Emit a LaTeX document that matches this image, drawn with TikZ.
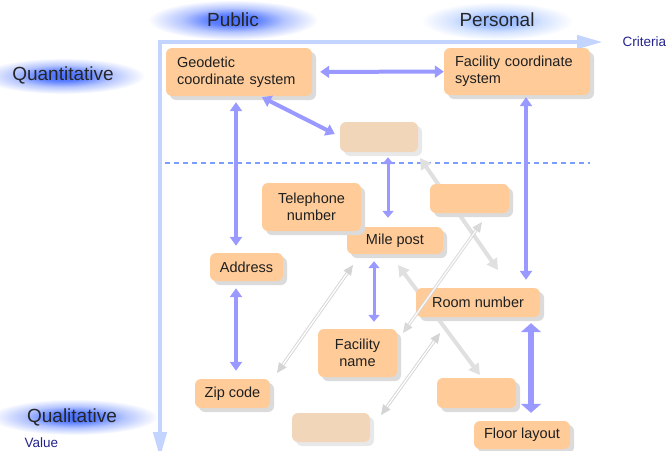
\documentclass[tikz,border=0pt]{standalone}
\usepackage{fontspec}
\setmainfont{Liberation Sans}
\usetikzlibrary{arrows.meta,shadows}

\definecolor{boxfill}{RGB}{255,204,153}
\definecolor{boxfade}{RGB}{242,214,186}
\definecolor{linkblue}{RGB}{153,153,255}
\definecolor{axisblue}{RGB}{195,212,255}
\definecolor{dashblue}{RGB}{125,158,255}
\definecolor{greylink}{RGB}{224,224,224}
\definecolor{greyedge}{RGB}{212,212,212}
\definecolor{axislabel}{RGB}{35,35,140}
\definecolor{glowcore}{RGB}{70,110,255}
\definecolor{glowpale}{RGB}{150,185,255}

% soft halos behind the axis titles
\pgfdeclareradialshading{glowstrong}{\pgfpoint{0bp}{0bp}}{color(0bp)=(glowcore); color(7bp)=(glowcore!88!white); color(15bp)=(glowcore!40!white); color(25bp)=(white); color(50bp)=(white)}
\pgfdeclareradialshading{glowsoft}{\pgfpoint{0bp}{0bp}}{color(0bp)=(glowpale); color(7bp)=(glowpale!88!white); color(15bp)=(glowpale!40!white); color(25bp)=(white); color(50bp)=(white)}

\tikzset{
  boxtext/.style={font=\fontsize{14.5}{17}\selectfont, text=black!88},
  card/.style={fill=boxfill, rounded corners=6pt, inner sep=0pt, align=center, boxtext,
    general shadow={shadow xshift=4pt, shadow yshift=-4pt, fill=black!14}},
  fadecard/.style={fill=boxfade, rounded corners=6pt, inner sep=0pt,
    general shadow={shadow xshift=4pt, shadow yshift=-4pt, fill=black!9}},
  leftcard/.style={card, align=left, inner xsep=11pt, text width=124pt},
  biglabel/.style={font=\fontsize{19}{22}\selectfont, text=black!85},
  axistitle/.style={font=\fontsize{13.5}{16}\selectfont, text=axislabel},
  link/.style={draw=linkblue, line width=4pt,
    arrows={Triangle[length=9pt,width=12pt]-Triangle[length=9pt,width=12pt]}},
  thinlink/.style={draw=linkblue, line width=3pt,
    arrows={Triangle[length=7pt,width=11pt]-Triangle[length=7pt,width=11pt]}},
  widelink/.style={draw=linkblue, line width=6pt,
    arrows={Triangle[length=9pt,width=20pt]-Triangle[length=9pt,width=20pt]}},
  greythick/.style={draw=greylink, line width=4pt,
    arrows={Triangle[length=11pt,width=12pt]-Triangle[length=11pt,width=12pt]}},
  greydouble/.style={draw=greyedge, line width=0.9pt, double=white, double distance=1.4pt,
    arrows={Triangle[length=10pt,width=9pt]-Triangle[length=10pt,width=9pt]}},
  axisline/.style={draw=axisblue, line width=4.5pt,
    arrows={Triangle[length=26pt,width=13pt]-Triangle[length=26pt,width=13pt]}},
}

\begin{document}
\begin{tikzpicture}[x=1pt, y=-1pt]
\useasboundingbox (0,0) rectangle (666,450);

% halos
\shade[shading=glowstrong] (233,20) ellipse [x radius=85pt, y radius=20pt];
\shade[shading=glowsoft] (497,21) ellipse [x radius=76pt, y radius=19pt];
\shade[shading=glowstrong] (63,76) ellipse [x radius=82pt, y radius=18pt];
\shade[shading=glowstrong] (74,417) ellipse [x radius=84pt, y radius=18pt];

% axes and the dashed divider
\coordinate (xend) at (603,42);
\coordinate (origin) at (160,42);
\coordinate (yend) at (160,458);
\draw[axisline] (xend) -- (origin) -- (yend);
\coordinate (dashL) at (165,163);
\coordinate (dashR) at (590,163);
\draw[draw=dashblue, line width=1.1pt, dash pattern=on 5pt off 4pt] (dashL) -- (dashR);

% axis titles
\node[biglabel] (public) at (233,20) {Public};
\node[biglabel] (personal) at (497,20) {Personal};
\node[biglabel] (quant) at (63,75) {Quantitative};
\node[biglabel] (qual) at (72,417) {Qualitative};
\node[axistitle, anchor=west] (criteria) at (619,42) {Criteria};
\node[axistitle, anchor=west] (value) at (21,443) {Value};

% free ends of the grey links
\coordinate (g1a) at (420,158);  \coordinate (g1b) at (498,270);
\coordinate (g2a) at (482,222);  \coordinate (g2b) at (403,333);
\coordinate (g3a) at (353,265);  \coordinate (g3b) at (277,373);
\coordinate (g4a) at (398,265);  \coordinate (g4b) at (480,375);
\coordinate (g5a) at (440,333);  \coordinate (g5b) at (381,415);

\draw[greythick] (g1a) -- (g1b);
\draw[greythick] (g4a) -- (g4b);
\draw[greydouble] (g3a) -- (g3b);
\draw[greydouble] (g5a) -- (g5b);

% boxes
\node[leftcard, minimum height=48pt] (geo) at (239,72) {Geodetic\\coordinate system};
\node[leftcard, minimum height=47pt] (fac) at (517,71.5) {Facility coordinate\\system};
\node[fadecard, minimum width=78pt, minimum height=30pt] (faded1) at (379,137) {};
\node[card, minimum width=79pt, minimum height=29pt] (blank1) at (469.5,198.5) {};
\node[card, minimum width=96pt, minimum height=27pt] (mile) at (395,240.5) {Mile post};
\node[card, minimum width=99pt, minimum height=48pt] (tel) at (311.5,207) {Telephone\\number};
\node[card, minimum width=73pt, minimum height=28pt] (addr) at (246.5,267) {Address};
\node[card, minimum width=124pt, minimum height=29pt] (room) at (478,302.5) {Room number};
\node[card, minimum width=79pt, minimum height=48pt] (facname) at (357.5,353) {Facility\\name};
\node[card, minimum width=75pt, minimum height=29pt] (zip) at (232.5,393.5) {Zip code};
\node[card, minimum width=79pt, minimum height=30pt] (blank2) at (476.5,393) {};
\node[fadecard, minimum width=78pt, minimum height=29pt] (faded2) at (331,427.5) {};
\node[card, minimum width=96pt, minimum height=28pt] (floor) at (522,435) {Floor layout};

\draw[greydouble, opacity=0.85] (g2a) -- (g2b);

% blue links
\draw[link, shorten <=8pt] (geo) -- (fac);
\draw[link] ([xshift=23pt,yshift=-1pt]geo.south) -- ([xshift=-5pt,yshift=3pt]faded1.west);
\draw[link] ([xshift=-3pt,yshift=-6pt]geo.south) -- ([xshift=-10.5pt,yshift=7pt]addr.north);
\draw[link] ([xshift=-10.5pt,yshift=-7pt]addr.south) -- ([xshift=3.5pt,yshift=8pt]zip.north);
\draw[thinlink] ([xshift=9pt,yshift=-5pt]faded1.south) -- ([xshift=-7pt,yshift=9pt]mile.north);
\draw[thinlink] ([xshift=-21pt,yshift=-7pt]mile.south) -- ([xshift=16.5pt,yshift=7pt]facname.north);
\draw[link] ([xshift=9pt,yshift=-2pt]fac.south) -- ([xshift=48pt,yshift=8pt]room.north);
\draw[widelink] ([xshift=53pt,yshift=-6pt]room.south) -- ([xshift=9pt,yshift=8pt]floor.north);
\end{tikzpicture}
\end{document}
